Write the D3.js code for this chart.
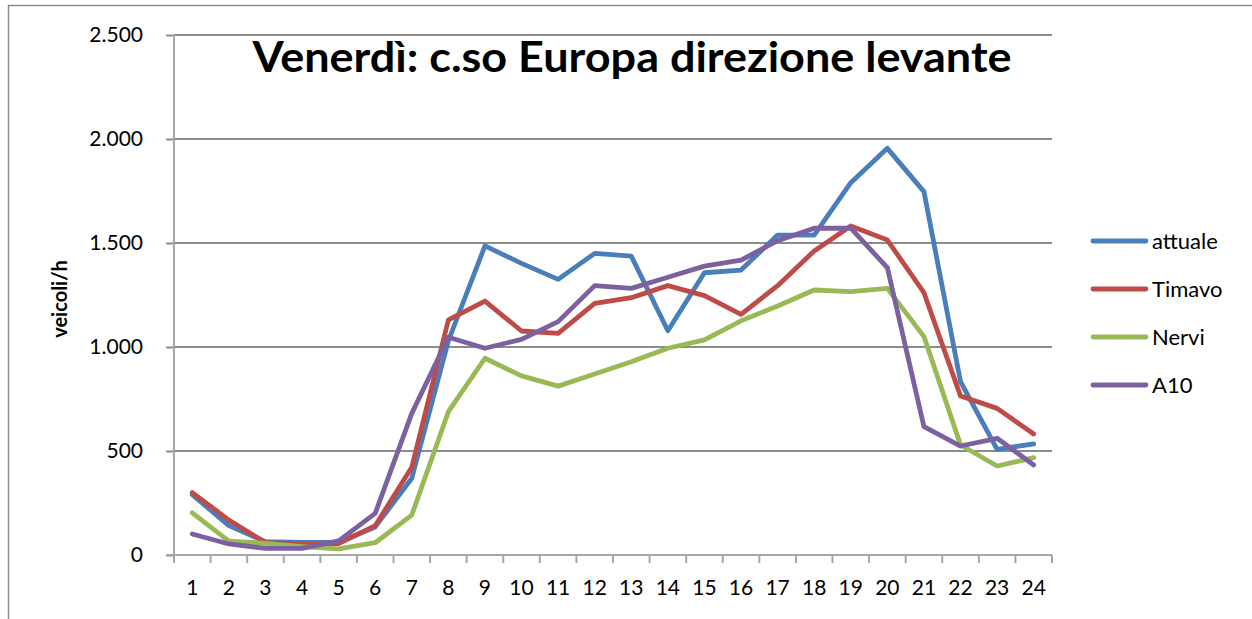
<!DOCTYPE html>
<html><head><meta charset="utf-8">
<script src="https://cdn.jsdelivr.net/npm/d3@7"></script>
<style>body{margin:0;background:#fff} text{font-family:Lato,'Noto Sans',sans-serif;fill:#000}</style>
</head><body><svg id="c" width="1252" height="619"></svg>
<script>
const hours = ["1","2","3","4","5","6","7","8","9","10","11","12","13","14","15","16","17","18","19","20","21","22","23","24"];
const attuale = [290,141,64,61,60,135,369,1030,1486,1402,1325,1450,1437,1078,1357,1370,1538,1538,1790,1955,1747,833,508,534];
const timavo  = [300,168,60,51,55,141,422,1130,1221,1077,1066,1210,1237,1295,1247,1157,1295,1462,1582,1514,1261,764,705,582];
const nervi   = [203,67,56,40,29,59,192,689,946,861,812,870,929,994,1034,1126,1197,1274,1266,1282,1050,529,428,468];
const a10     = [101,53,32,32,68,200,681,1047,994,1037,1122,1295,1282,1335,1389,1418,1511,1571,1571,1381,617,524,561,433];
const seriesNames = ["attuale","Timavo","Nervi","A10"];
const seriesValues = [attuale, timavo, nervi, a10];
const seriesColors = ["#4a7ebb","#be4b48","#98b954","#7d60a0"];
const yTicks = [0,500,1000,1500,2000,2500];
const title = "Venerdì: c.so Europa direzione levante";
const yTitle = "veicoli/h";

const svg = d3.select("#c");
const L=174, R=1052, T=35, B=555;
const x = d3.scaleBand().domain(hours).range([L,R]);
const y = d3.scaleLinear().domain([0,2500]).range([B,T]);
const loc = d3.formatLocale({decimal:",",thousands:".",grouping:[3],currency:["€",""]});
const fmt = loc.format(",");

// outer border
svg.append("rect").attr("x",8.5).attr("y",5.5).attr("width",1260).attr("height",640)
  .attr("fill","none").attr("stroke","#8c8c8c").attr("stroke-width",1.5);

// gridlines + y ticks
const gy = svg.append("g").attr("transform",`translate(${L},0)`)
  .call(d3.axisLeft(y).tickValues(yTicks).tickSize(8).tickFormat(fmt).tickPadding(23));
gy.select(".domain").remove();
gy.selectAll(".tick line").attr("stroke","#8c8c8c").attr("stroke-width",2);
gy.selectAll(".tick text").style("font-size","21px").style("font-family","Lato");
svg.append("g").selectAll("line").data(yTicks).join("line")
  .attr("x1",L).attr("x2",R).attr("y1",d=>y(d)).attr("y2",d=>y(d))
  .attr("stroke","#8c8c8c").attr("stroke-width",2);
// y axis line
svg.append("line").attr("x1",L).attr("x2",L).attr("y1",T).attr("y2",B)
  .attr("stroke","#a6a6a6").attr("stroke-width",2);

// x axis
const gx = svg.append("g").attr("transform",`translate(0,${B})`)
  .call(d3.axisBottom(x).tickSize(0).tickPadding(25));
gx.select(".domain").remove();
gx.selectAll(".tick text").style("font-size","21px").style("font-family","Lato");
const bounds = hours.map(h=>x(h)).concat([R]);
svg.append("g").selectAll("line").data(bounds).join("line")
  .attr("x1",d=>d).attr("x2",d=>d).attr("y1",B).attr("y2",B+8)
  .attr("stroke","#a6a6a6").attr("stroke-width",2);
svg.append("line").attr("x1",L-8).attr("x2",R).attr("y1",B).attr("y2",B)
  .attr("stroke","#a6a6a6").attr("stroke-width",2);

// lines
const line = d3.line().x((d,i)=>x(hours[i])+x.bandwidth()/2).y(d=>y(d));
seriesValues.forEach((vals,k)=>{
  svg.append("path").datum(vals).attr("d",line).attr("fill","none")
    .attr("stroke",seriesColors[k]).attr("stroke-width",4.8)
    .attr("stroke-linejoin","round").attr("stroke-linecap","round");
});

// title
svg.append("text").attr("x",632).attr("y",72).attr("text-anchor","middle")
  .attr("textLength",759).attr("lengthAdjust","spacingAndGlyphs")
  .style("font-size","42px").style("font-weight","bold").text(title);

// y title
svg.append("text").attr("transform","translate(67,299) rotate(-90)").attr("text-anchor","middle")
  .style("font-size","20px").style("font-weight","bold").text(yTitle);

// legend
const lg = svg.append("g");
seriesNames.forEach((n,k)=>{
  const yy = 241 + k*48;
  lg.append("line").attr("x1",1093).attr("x2",1146).attr("y1",yy).attr("y2",yy)
    .attr("stroke",seriesColors[k]).attr("stroke-width",4.8).attr("stroke-linecap","round");
  lg.append("text").attr("x",1152).attr("y",yy).attr("dy","0.36em")
    .style("font-size","22px").text(n);
});
</script></body></html>
